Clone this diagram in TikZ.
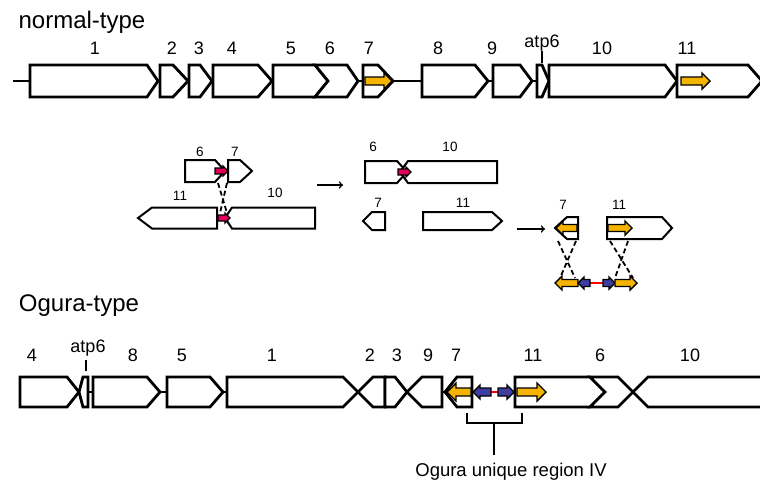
\documentclass[tikz,border=0pt]{standalone}
\usepackage{fontspec}
\setmainfont{Liberation Sans}
\usepackage{tikz}

\definecolor{gold}{RGB}{245,180,0}
\definecolor{pinkred}{RGB}{228,0,90}
\definecolor{navy}{RGB}{62,62,160}

\newcommand{\genR}[5]{\draw[gene] (#1,#4-#5) -- (#2,#4-#5) -- (#3,#4) -- (#2,#4+#5) -- (#1,#4+#5) -- cycle;}
\newcommand{\genL}[5]{\draw[gene] (#1,#4) -- (#2,#4-#5) -- (#3,#4-#5) -- (#3,#4+#5) -- (#2,#4+#5) -- cycle;}
\newcommand{\genN}[6]{\draw[gene] (#1,#5-#6) -- (#3,#5-#6) -- (#4,#5) -- (#3,#5+#6) -- (#1,#5+#6) -- (#2,#5) -- cycle;}
\newcommand{\blkR}[6]{\draw[blk,fill=#6] (#1,#3-#4) -- (#2-#5,#3-#4) -- (#2-#5,#3-#5) -- (#2,#3) -- (#2-#5,#3+#5) -- (#2-#5,#3+#4) -- (#1,#3+#4) -- cycle;}
\newcommand{\blkL}[6]{\draw[blk,fill=#6] (#2,#3-#4) -- (#1+#5,#3-#4) -- (#1+#5,#3-#5) -- (#1,#3) -- (#1+#5,#3+#5) -- (#1+#5,#3+#4) -- (#2,#3+#4) -- cycle;}

\tikzset{
    gene/.style={draw=black,fill=white,line width=2.8pt,line join=miter,miter limit=3},
    blk/.style={draw=black,line width=1.4pt,line join=miter},
    lbl/.style={font=\fontsize{18}{20}\selectfont,inner sep=0pt},
    slbl/.style={font=\fontsize{13.5}{15}\selectfont,inner sep=0pt},
    ttl/.style={font=\fontsize{24}{27}\selectfont,inner sep=0pt},
    bb/.style={line width=2.8pt},
    cross/.style={line width=1.8pt,dash pattern=on 5pt off 3pt},
    goes/.style={->,line width=1.6pt}
}

\begin{document}
\begin{tikzpicture}[x=1pt,y=-1pt]
    \useasboundingbox (0,0) rectangle (760,485);
    \clip (0,0) rectangle (760,485);

    \node[ttl] (normal) at (82,22) {normal-type};
    \foreach \g/\x in {1/95,2/172,3/199,4/232,5/291,6/330,7/369,8/438,9/492,10/602,11/687}
        \node[lbl] (top-\g) at (\x,48) {\g};
    \node[lbl] (top-atp6) at (542,43) {atp6};
    \draw[line width=2.2pt] (542,51) -- (542,63);

    \draw[bb] (13,81) -- (30,81) (358,81) -- (363,81) (393,81) -- (422,81)
        (488,81) -- (493,81) (532,81) -- (537,81);
    \genR{30}{147}{158}{81}{16}
    \genR{160}{173}{188}{81}{16}
    \genR{189}{200}{212}{81}{16}
    \genR{213}{258}{272}{81}{16}
    \genR{273}{315}{328}{81}{16}
    \genN{315}{328}{347}{358}{81}{16}
    \genR{363}{378}{393}{81}{16}
    \genR{422}{475}{488}{81}{16}
    \genR{493}{520}{532}{81}{16}
    \genR{537}{542}{549}{81}{16}
    \genR{549}{665}{677}{81}{16}
    \genR{677}{748}{762}{81}{16}
    \blkR{365}{392}{81}{4}{8}{gold}
    \blkR{681}{710}{81}{4}{8}{gold}

    \begin{scope}[gene/.append style={line width=2pt}]
        \foreach \g/\x/\y in {6/200/152,7/235/152,11/180/196,10/275/193}
            \node[slbl] (ml-\g) at (\x,\y) {\g};
        \genR{185}{215}{225}{171}{11}
        \genR{228}{240}{252}{171}{11}
        \genL{138}{152}{217}{218}{10.5}
        \genL{225}{232}{315}{218}{10.5}
        \blkR{215}{228}{171}{3}{5}{pinkred}
        \blkR{218}{230}{218}{3}{5}{pinkred}
        \coordinate (a1) at (218,183);
        \coordinate (a2) at (227,183);
        \coordinate (b1) at (220,213);
        \coordinate (b2) at (227,213);
        \draw[cross] (a1) -- (b2) (a2) -- (b1);
        \coordinate (s1) at (317,185);
        \coordinate (e1) at (343,185);
        \draw[goes] (s1) -- (e1);

        \foreach \g/\x/\y in {6/373/147,10/450/147,7/378/203,11/463/203}
            \node[slbl] (mr-\g) at (\x,\y) {\g};
        \genR{365}{397}{407}{172}{11}
        \genL{400}{408}{497}{172}{11}
        \blkR{398}{411}{172}{3}{5}{pinkred}
        \genL{363}{372}{385}{221}{9}
        \genR{423}{492}{502}{221}{9}
        \coordinate (s2) at (517,229);
        \coordinate (e2) at (545,229);
        \draw[goes] (s2) -- (e2);

        \node[slbl] (fr-7) at (563,205) {7};
        \node[slbl] (fr-11) at (619,205) {11};
        \genL{555}{567}{578}{228}{11}
        \genR{607}{662}{672}{228}{11}
        \blkL{556}{577}{228}{3.5}{7}{gold}
        \blkR{608}{632}{228}{3.5}{7}{gold}
        \coordinate (c1) at (558,241);
        \coordinate (c2) at (576,241);
        \coordinate (c3) at (610,241);
        \coordinate (c4) at (628,241);
        \coordinate (d1) at (560,278);
        \coordinate (d2) at (575,278);
        \coordinate (d3) at (615,278);
        \coordinate (d4) at (633,278);
        \draw[cross] (c1) -- (d2) (c2) -- (d1) (c3) -- (d4) (c4) -- (d3);
        \draw[red,line width=2.2pt] (590,283) -- (603,283);
        \blkL{555}{578}{283}{3.5}{7}{gold}
        \blkL{578}{590}{283}{3.5}{6}{navy}
        \blkR{603}{615}{283}{3.5}{6}{navy}
        \blkR{615}{637}{283}{3.5}{7}{gold}
    \end{scope}

    \node[ttl] (ogura) at (79,306) {Ogura-type};
    \foreach \g/\x in {4/32,8/133,5/182,1/272,2/370,3/397,9/428,7/456,11/533,6/600,10/690}
        \node[lbl] (og-\g) at (\x,355) {\g};
    \node[lbl] (og-atp6) at (88,348) {atp6};
    \draw[line width=2.2pt] (86,360) -- (86,371);

    \draw[bb] (88,392) -- (93,392) (160,392) -- (167,392) (223,392) -- (227,392)
        (442,392) -- (445,392);
    \genR{20}{67}{79}{392}{15}
    \genL{79}{83}{88}{392}{15}
    \genR{93}{147}{160}{392}{15}
    \genR{167}{210}{223}{392}{15}
    \genR{227}{343}{358}{392}{15}
    \genL{358}{373}{385}{392}{15}
    \genR{385}{395}{407}{392}{15}
    \genL{407}{422}{442}{392}{15}
    \genL{445}{457}{472}{392}{15}
    \genR{515}{590}{605}{392}{15}
    \genN{590}{605}{618}{633}{392}{15}
    \genL{633}{648}{780}{392}{15}
    \draw[red,line width=2.2pt] (490,392) -- (499,392);
    \blkL{447}{471}{392}{4}{9}{gold}
    \blkL{473}{491}{392}{4}{7}{navy}
    \blkR{498}{514}{392}{4}{7}{navy}
    \blkR{517}{546}{392}{4}{9}{gold}

    \coordinate (br-l) at (467,413);
    \coordinate (br-r) at (522,413);
    \coordinate (br-m) at (494,423);
    \node[font=\fontsize{18.5}{20}\selectfont,inner sep=0pt] (unique) at (511,472) {Ogura unique region IV};
    \draw[line width=2.2pt] (br-l) -- (467,423) -- (522,423) -- (br-r);
    \draw[line width=2.2pt] (br-m) -- (494,455);
\end{tikzpicture}
\end{document}
